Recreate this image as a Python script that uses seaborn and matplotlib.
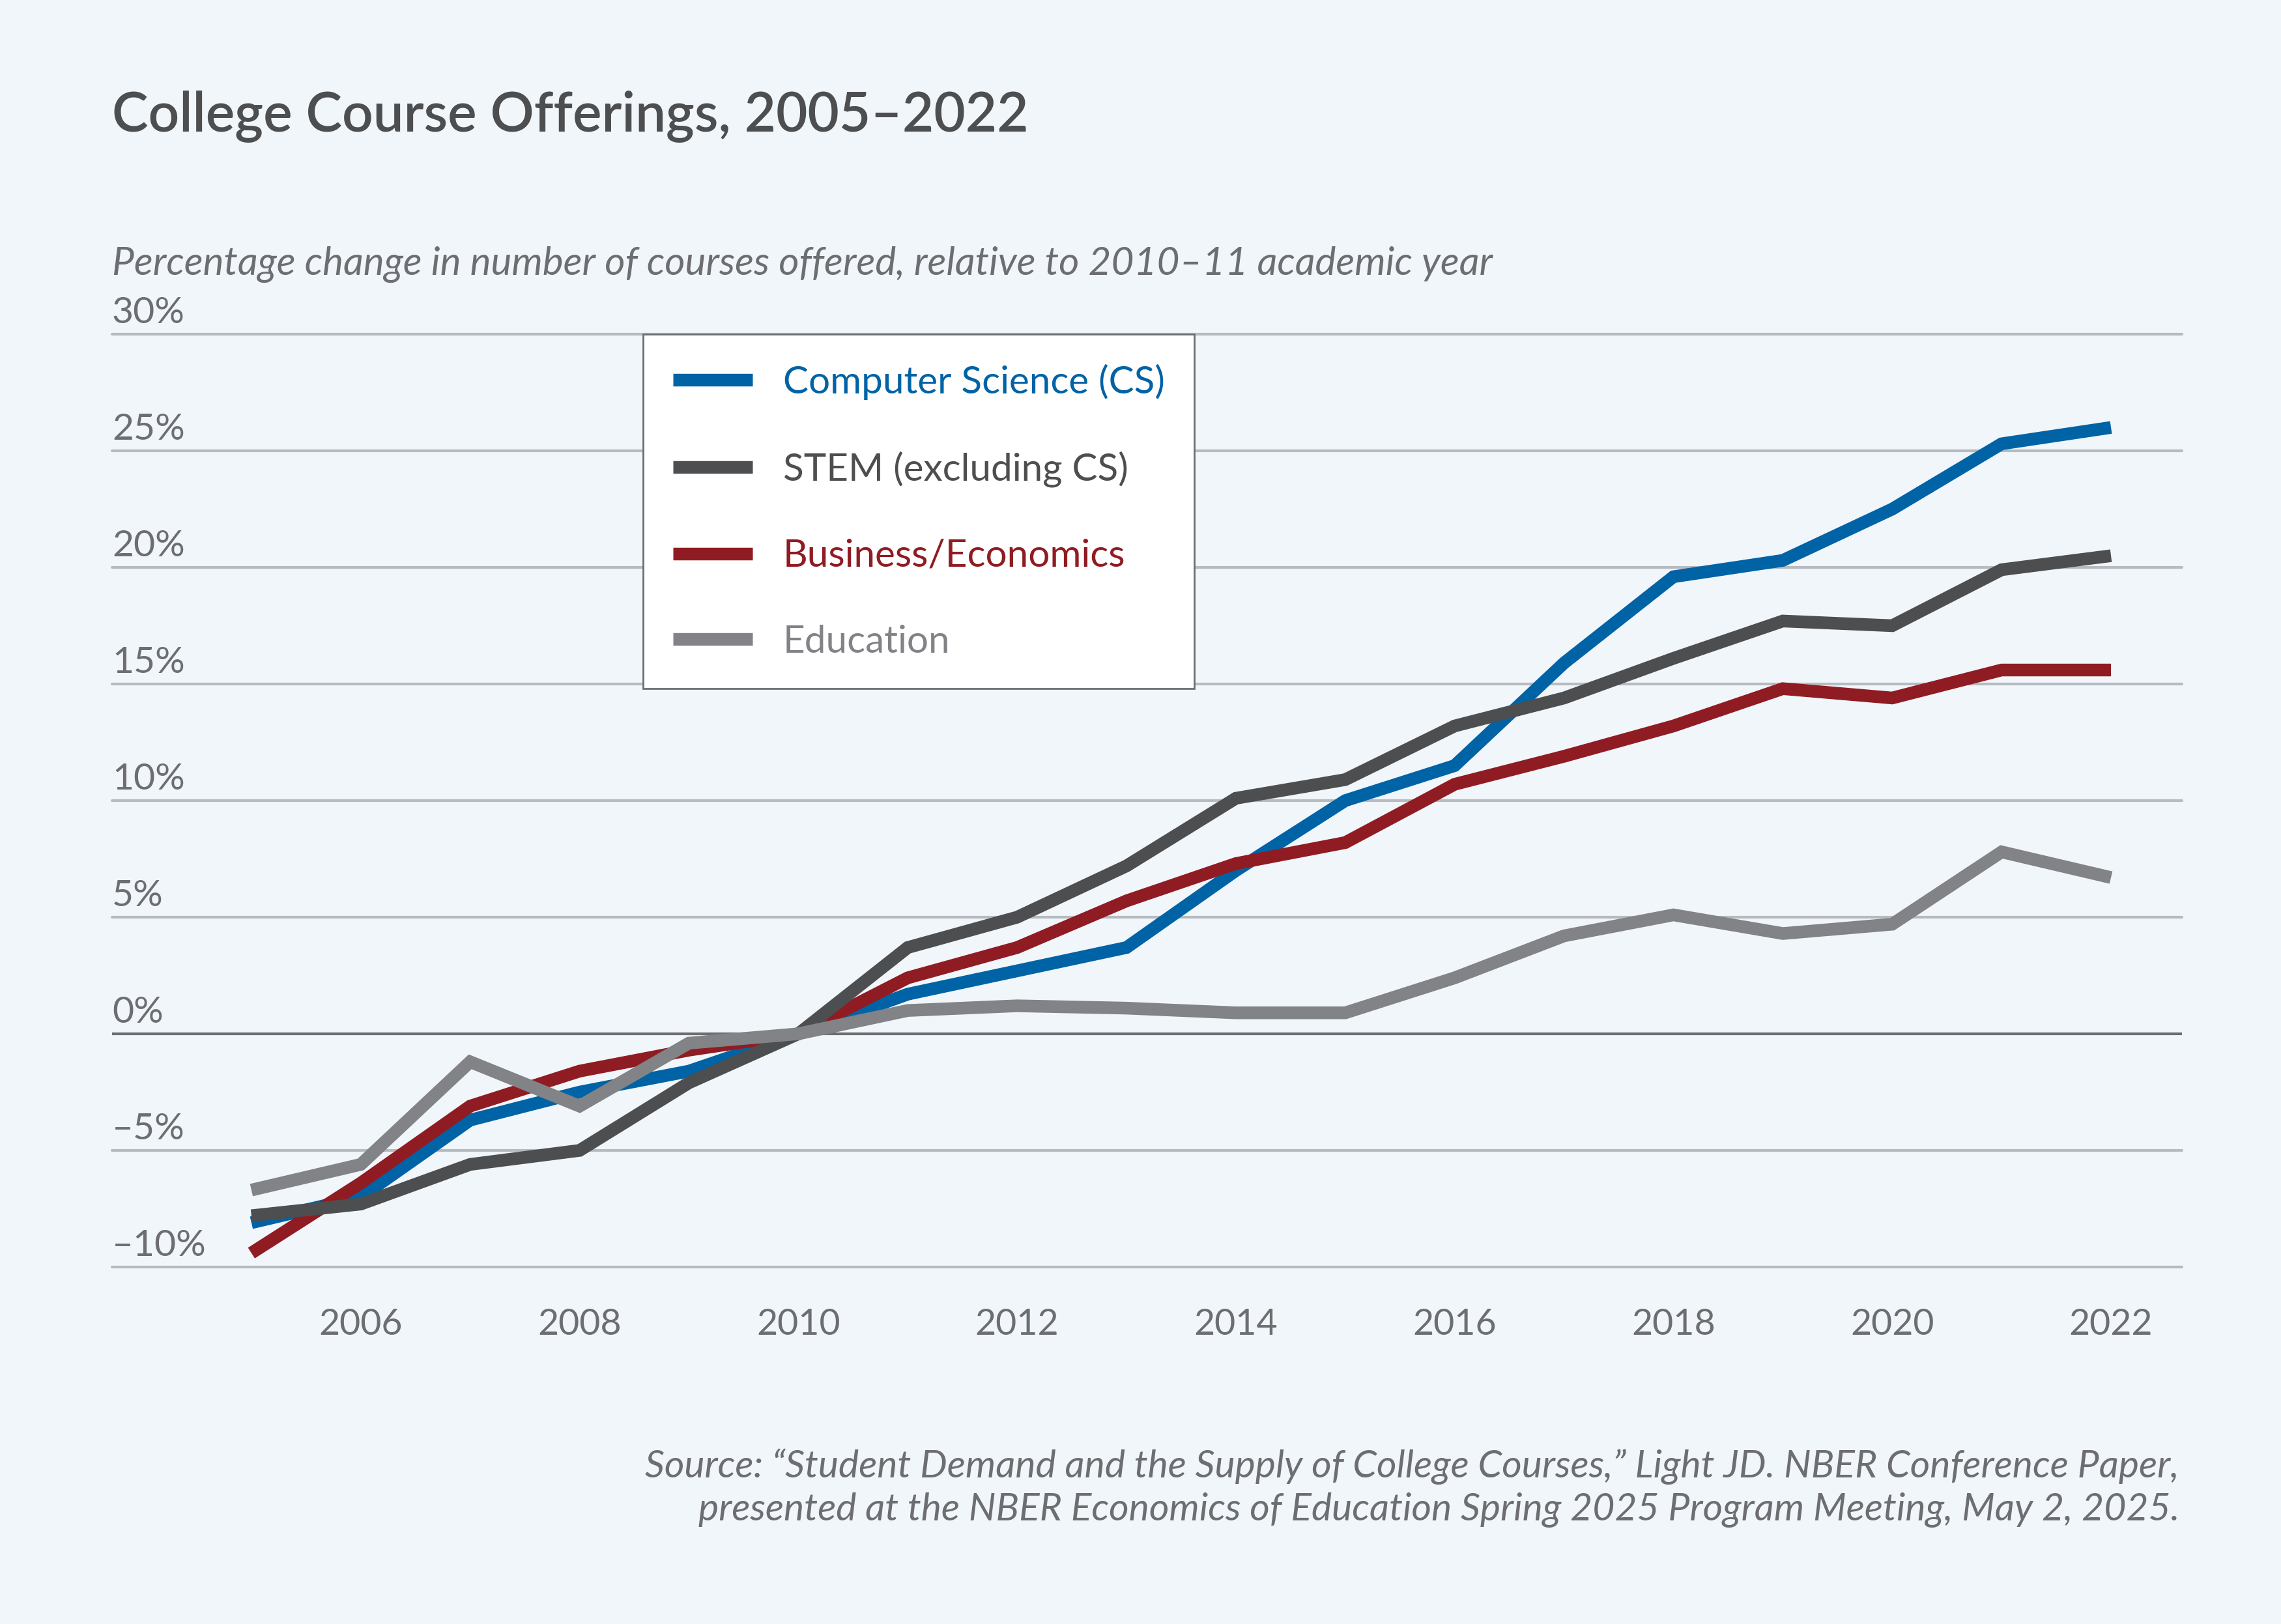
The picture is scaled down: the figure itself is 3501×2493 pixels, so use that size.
import matplotlib
matplotlib.use("Agg")
import matplotlib.pyplot as plt
import matplotlib.transforms as mtransforms
from matplotlib.lines import Line2D
import numpy as np
import pandas as pd
import seaborn as sns

# data (% change vs 2010-11)
years = list(range(2005, 2023))
cs = [-8.1, -7.0, -3.7, -2.5, -1.6, 0.0, 1.7, 2.7, 3.7, 7.0, 10.0, 11.5, 15.9, 19.6, 20.3, 22.5, 25.3, 26.0]
stem = [-7.8, -7.3, -5.6, -5.0, -2.1, 0.0, 3.7, 5.0, 7.2, 10.1, 10.9, 13.2, 14.4, 16.1, 17.7, 17.5, 19.9, 20.5]
business = [-9.4, -6.4, -3.1, -1.6, -0.7, 0.0, 2.4, 3.7, 5.7, 7.3, 8.2, 10.7, 11.9, 13.2, 14.8, 14.4, 15.6, 15.6]
education = [-6.7, -5.6, -1.2, -3.1, -0.4, 0.0, 1.0, 1.2, 1.1, 0.9, 0.9, 2.4, 4.2, 5.1, 4.3, 4.7, 7.8, 6.7]

series_names = ["Computer Science (CS)", "STEM (excluding CS)", "Business/Economics", "Education"]
series_colors = ["#0063A6", "#4D4E50", "#901C23", "#818386"]
draw_order = ["Computer Science (CS)", "Business/Economics", "STEM (excluding CS)", "Education"]

yticks = [-10, -5, 0, 5, 10, 15, 20, 25, 30]
ytick_labels = ["–10%", "–5%", "0%", "5%", "10%", "15%", "20%", "25%", "30%"]
xticks_major = list(range(2006, 2023, 2))
xticks_minor = list(range(2005, 2023, 2))

title = "College Course Offerings, 2005–2022"
subtitle = "Percentage change in number of courses offered, relative to 2010–11 academic year"
source1 = "Source: \u201cStudent Demand and the Supply of College Courses,\u201d Light JD. NBER Conference Paper,"
source2 = "presented at the NBER Economics of Education Spring 2025 Program Meeting, May 2, 2025."

bg = "#F1F6FA"
txt = "#6D6E71"

sns.set_style("white")
plt.rcParams['font.family'] = ['Lato', 'DejaVu Sans']

df = pd.DataFrame({"year": years, series_names[0]: cs, series_names[1]: stem,
                   series_names[2]: business, series_names[3]: education})
df = df.melt(id_vars="year", var_name="series", value_name="value")
palette = dict(zip(series_names, series_colors))

W, H = 3501, 2493
fig = plt.figure(figsize=(W / 200, H / 200), dpi=200, facecolor=bg)
ax = fig.add_axes([172 / W, 1 - 1945 / H, (3349 - 172) / W, (1945 - 513) / H])
ax.set_facecolor(bg)

# gridlines
for v in yticks:
    if v == 0:
        continue
    ax.axhline(v, color="#B7BBBF", lw=1.5, clip_on=False, zorder=1)

sns.lineplot(data=df, x="year", y="value", hue="series", hue_order=draw_order,
             palette=palette, linewidth=7, legend=False, ax=ax,
             solid_capstyle="butt", solid_joinstyle="miter", zorder=3)
ax.axhline(0, color=txt, lw=1.5, zorder=2)

ax.set_xlim(2005 - 214 / 168, 2022 + 109 / 168)
ax.set_ylim(-10, 30)
for s in ax.spines.values():
    s.set_visible(False)
ax.set_xlabel("")
ax.set_ylabel("")

ax.set_xticks(xticks_major)
ax.set_xticklabels([str(y) for y in xticks_major])
ax.set_xticks(xticks_minor, minor=True)
ax.tick_params(axis="x", which="major", direction="out", length=9.7, width=1.1,
               color=txt, labelcolor=txt, labelsize=20, pad=13)
ax.tick_params(axis="x", which="minor", direction="out", length=5.3, width=1.1, color=txt)
ax.set_yticks([])

trans = mtransforms.blended_transform_factory(ax.transAxes, ax.transData)
trans = mtransforms.offset_copy(trans, fig=fig, y=6.0, units="points")
for v, lab in zip(yticks, ytick_labels):
    ax.text(0, v, lab, transform=trans, ha="left", va="baseline",
            fontsize=20.5, color=txt)

handles = [Line2D([0], [0], color=c, lw=7, solid_capstyle="butt") for c in series_colors]
leg = ax.legend(handles, series_names, loc="upper left",
                bbox_to_anchor=((987 - 172) / (3349 - 172), 1.0), borderaxespad=0,
                fontsize=21, handlelength=2.1, handletextpad=0.8,
                labelspacing=1.35, borderpad=0.78, fancybox=False, framealpha=1)
leg.get_frame().set_edgecolor(txt)
leg.get_frame().set_linewidth(1.0)
leg.get_frame().set_facecolor("white")
for t, c in zip(leg.get_texts(), series_colors):
    t.set_color(c)
leg.set_zorder(5)

fig.text(172 / W, 1 - 179 / H, title, fontsize=30.1, fontweight="semibold",
         color="#4D4E50", va="center", ha="left")
fig.text(172 / W, 1 - 406 / H, subtitle, fontsize=21.7, style="italic",
         color=txt, va="center", ha="left")
fig.text(3345 / W, 1 - 2251 / H, source1, fontsize=21.2, style="italic",
         color=txt, va="center", ha="right")
fig.text(3345 / W, 1 - 2318 / H, source2, fontsize=21.2, style="italic",
         color=txt, va="center", ha="right")

fig.savefig("out.png", dpi=200, facecolor=bg)
